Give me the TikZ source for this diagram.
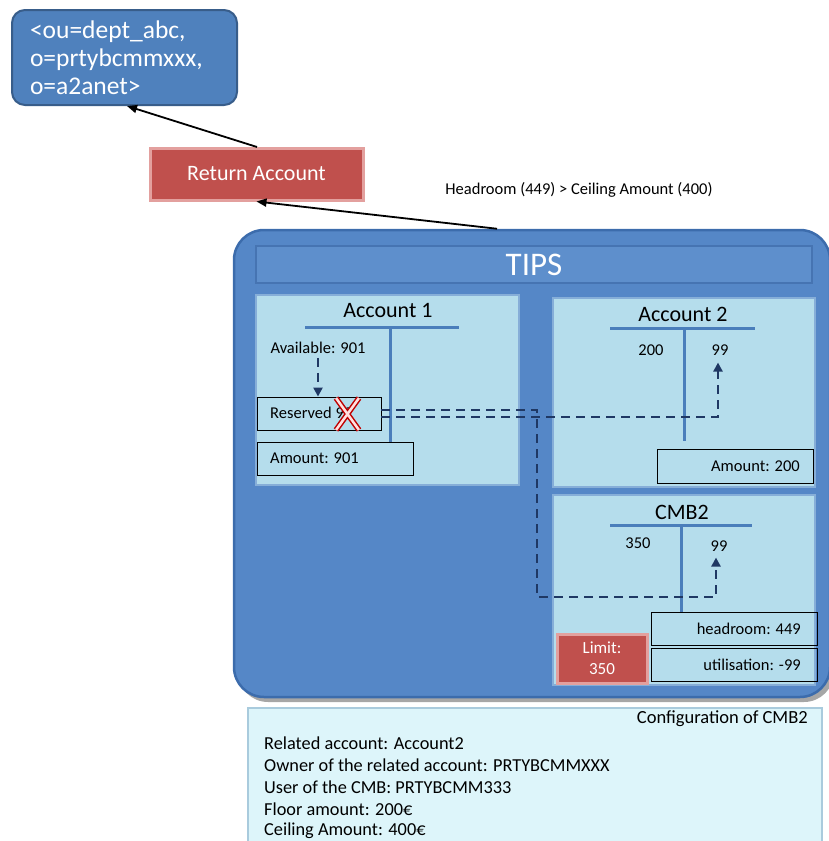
\documentclass[tikz,border=0pt]{standalone}
\usepackage{fontspec}
\setmainfont{Carlito}
\usetikzlibrary{arrows.meta,calc}
\definecolor{tipsblue}{HTML}{5587C7}
\definecolor{tipsedge}{HTML}{3C6CAC}
\definecolor{hdrblue}{HTML}{5E8FCC}
\definecolor{hdredge}{HTML}{4674B2}
\definecolor{panelfill}{HTML}{B5DDEC}
\definecolor{paneledge}{HTML}{86AED8}
\definecolor{tline}{HTML}{4A7EBB}
\definecolor{navy}{HTML}{1F3864}
\definecolor{topfill}{HTML}{4F81BD}
\definecolor{topedge}{HTML}{385D8A}
\definecolor{redfill}{HTML}{C0504D}
\definecolor{rededge}{HTML}{E3A09E}
\definecolor{cfgfill}{HTML}{DDF5FA}
\definecolor{cfgedge}{HTML}{A9CBDD}
\tikzset{
  panel/.style={rectangle,fill=panelfill,draw=paneledge,line width=2.5pt,inner sep=0pt},
  valbox/.style={rectangle,draw=black,line width=0.9pt,inner sep=0pt},
  redbox/.style={rectangle,fill=redfill,draw=rededge,line width=3pt,inner sep=0pt,text=white},
  tbar/.style={draw=tline,line width=3pt},
  lbl/.style={inner sep=0pt,font=\fontsize{16.5}{18}\selectfont},
  cfgl/.style={inner sep=0pt,anchor=west,font=\fontsize{18.3}{20}\selectfont},
  ttl/.style={inner sep=0pt,font=\fontsize{22}{24}\selectfont},
  dsh/.style={draw=navy,line width=2.8pt,dash pattern=on 9pt off 6pt},
  conn/.style={draw=black,line width=1.8pt,-{Triangle[length=10pt,width=8pt]}},
  dtip/.style={-{Triangle[length=9pt,width=9pt]}}
}
\begin{document}
\begin{tikzpicture}[x=1pt,y=-1pt]
\useasboundingbox (0,0) rectangle (829,841);
\begin{scope}
\clip (0,0) rectangle (829,841);
% top box
\node[rectangle,rounded corners=13pt,fill=topfill,draw=topedge,line width=2pt,
  minimum width=225pt,minimum height=95pt,inner sep=0pt,text=white,
  align=left,text width=189pt,font=\fontsize{25.5}{28}\selectfont] (dn) at (124.5,57.5)
  {<ou=dept\_abc,\\o=prtybcmmxxx,\\o=a2anet>};
% return account
\node[redbox,minimum width=213pt,minimum height=52pt,font=\fontsize{22}{24}\selectfont] (ret) at (256.5,174) {Return Account};
\node[lbl] (hlbl) at (579,190) {Headroom (449) > Ceiling Amount (400)};
% TIPS outer with shadow
\fill[gray!70,rounded corners=30pt] (238,236) rectangle (834,702);
\node[rectangle,rounded corners=30pt,fill=tipsblue,draw=tipsedge,line width=2.5pt,
  minimum width=596pt,minimum height=467pt,inner sep=0pt] (tips) at (532,463.5) {};
\node[rectangle,fill=hdrblue,draw=hdredge,line width=2.5pt,minimum width=556pt,minimum height=37pt,
  inner sep=0pt,text=white,font=\fontsize{33}{36}\selectfont] (hdr) at (534,264.5) {TIPS};
% panels
\node[panel,minimum width=263pt,minimum height=190pt] (acc1) at (387.5,390) {};
\node[panel,minimum width=262pt,minimum height=189pt] (acc2) at (684,392.5) {};
\node[panel,minimum width=262pt,minimum height=190pt] (cmb) at (684,590) {};
% Account 1
\node[ttl] (a1t) at (388,310) {Account 1};
\coordinate (a1l) at (305,327); \coordinate (a1r) at (459,327);
\coordinate (a1top) at (390,327); \coordinate (a1bot) at (390,443);
\draw[tbar] (a1l) -- (a1r);
\draw[tbar] (a1top) -- (a1bot);
\node[lbl] (avail) at (318,348) {Available: 901};
\node[valbox,minimum width=124pt,minimum height=33pt] (res) at (319,413.5) {};
\node[lbl,anchor=west] (rest) at (270,413) {Reserved 99};
\node[valbox,minimum width=156pt,minimum height=33pt] (amt1) at (335,458.5) {};
\node[lbl,anchor=west] (amt1t) at (270,458.5) {Amount: 901};
% Account 2
\node[ttl] (a2t) at (683,314) {Account 2};
\coordinate (a2l) at (610,328); \coordinate (a2r) at (755,328);
\coordinate (a2top) at (684,328); \coordinate (a2bot) at (684,441);
\draw[tbar] (a2l) -- (a2r);
\draw[tbar] (a2top) -- (a2bot);
\node[lbl] (a2d) at (651,350) {200};
\node[lbl] (a2c) at (720,350) {99};
\node[valbox,minimum width=156pt,minimum height=34pt] (amt2) at (735,466) {};
\node[lbl,anchor=east] (amt2t) at (800,466) {Amount: 200};
% CMB2
\node[ttl] (ct) at (682,512) {CMB2};
\coordinate (cl) at (610,525); \coordinate (cr) at (752,525);
\coordinate (ctop) at (681,525); \coordinate (cbot) at (681,612);
\draw[tbar] (cl) -- (cr);
\draw[tbar] (ctop) -- (cbot);
\node[lbl] (cd) at (638,543) {350};
\node[lbl] (cc) at (719,546) {99};
\node[valbox,minimum width=166pt,minimum height=33pt] (head) at (734,628.5) {};
\node[lbl,anchor=east] (headt) at (801,628.5) {headroom: 449};
\node[valbox,minimum width=166pt,minimum height=33pt] (util) at (734,664.5) {};
\node[lbl,anchor=east] (utilt) at (801,664.5) {utilisation: -99};
\node[redbox,minimum width=90pt,minimum height=49pt,align=center,
  font=\fontsize{17}{21}\selectfont] (lim) at (602,658.5) {Limit:\\350};
% dashed flows
\draw[dsh,dtip] (avail.south) ++(0,4) -- (res.north -| avail.south);
\coordinate (j1) at (537,410);
\coordinate (j2) at (537,597);
\coordinate (j3) at (716,597);
\coordinate (k1) at (718,417);
\draw[dsh,dtip] ($(res.east)+(0,-3.5)$) -- (j1) -- (j2) -- (j3) -- ($(cc.south -| j3)+(0,6)$);
\draw[dsh,dtip] ($(res.east)+(0,3.5)$) -- (k1) -- ($(a2c.south -| k1)+(0,7)$);
% red X
\draw[red!75!black,line width=5.5pt] (336,398) -- (359,430) (359,398) -- (336,430);
\draw[red!12,line width=2.5pt] (336,398) -- (359,430) (359,398) -- (336,430);
% black connectors
\draw[conn] (tips.north) ++(-35,0) -- (ret.south);
\coordinate (retup) at (257,147);
\draw[conn] (retup) -- (127,106);
% configuration box
\node[rectangle,fill=cfgfill,draw=cfgedge,line width=2pt,minimum width=574pt,minimum height=137pt,inner sep=0pt] (cfg) at (535,776.5) {};
\node[lbl,anchor=east,font=\fontsize{18.5}{20}\selectfont] (cfgt) at (808,719) {Configuration of CMB2};
\node[cfgl] (c1) at (264,743) {Related account: Account2};
\node[cfgl] (c2) at (264,765) {Owner of the related account: PRTYBCMMXXX};
\node[cfgl] (c3) at (264,787) {User of the CMB: PRTYBCMM333};
\node[cfgl] (c4) at (264,809) {Floor amount: 200€};
\node[cfgl] (c5) at (264,831) {Ceiling Amount: 400€};
\end{scope}
\end{tikzpicture}
\end{document}
